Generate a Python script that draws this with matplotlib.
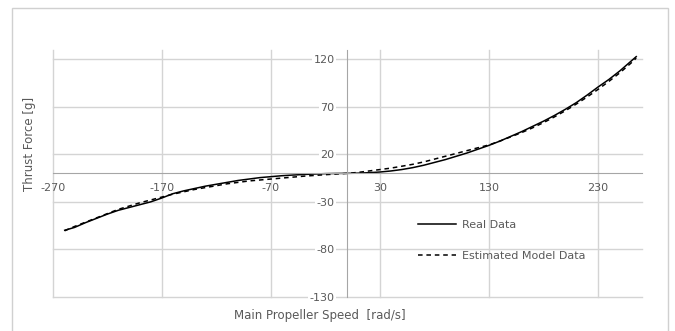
import matplotlib
matplotlib.use("Agg")
import matplotlib.pyplot as plt
from matplotlib.patches import Rectangle

plt.rcParams["axes.unicode_minus"] = False

# speed [rad/s]
speed = [-259, -250, -240, -230, -220, -210, -200, -190, -180, -170,
         -160, -150, -140, -130, -120, -110, -100, -90, -80, -70,
         -60, -50, -40, -30, -20, -10, 0, 10, 20, 30,
         40, 50, 60, 70, 80, 90, 100, 110, 120, 130,
         140, 150, 160, 170, 180, 190, 200, 210, 220, 230,
         240, 250, 260, 265]

real_thrust = [-60, -57, -52, -47.5, -43, -39, -36, -33, -30, -26,
               -21.5, -18.5, -16, -13.5, -11.5, -9.5, -7.5, -6, -4.5, -3.5,
               -2.5, -1.8, -1.2, -0.7, -0.3, -0.1, 0, 0.2, 0.7, 1.4,
               2.5, 4, 6, 8.5, 11.5, 14.5, 18, 21.5, 25.5, 29.5,
               34, 39, 44, 49.5, 55, 61, 67.5, 74.5, 82.5, 91,
               99, 108, 118, 123]

model_thrust = [-60.5, -56, -51.5, -47, -42.5, -38, -34.5, -31, -28, -25,
                -22, -19.5, -17, -15, -13, -11, -9.5, -8, -7, -6,
                -5, -4, -3, -2.2, -1.4, -0.7, 0, 1, 2.5, 4,
                5.5, 7.5, 9.5, 12, 15, 18, 21, 24, 27, 30,
                34, 38.5, 43, 48, 53.5, 59.5, 66, 73, 80.5, 88.5,
                97, 106, 116, 121.5]

xticks = [-270, -170, -70, 30, 130, 230]
yticks = [-130, -80, -30, 20, 70, 120]

grey_txt = "#595959"
grid_col = "#d4d4d4"

fig = plt.figure(figsize=(6.75, 3.31), dpi=100)
fig.patches.append(Rectangle((12 / 675, -0.05), 656 / 675, 1 - 8 / 331 + 0.05,
                             transform=fig.transFigure, fill=False,
                             edgecolor="#d0d0d0", linewidth=1))

ax = fig.add_axes([52.7 / 675, 1 - 296.7 / 331, (641.7 - 52.7) / 675, (296.7 - 50) / 331])

ax.plot(speed, real_thrust, color="black", linewidth=1.1, label="Real Data")
ax.plot(speed, model_thrust, color="black", linewidth=1.1, linestyle=(0, (3, 2.5)),
        label="Estimated Model Data")

ax.set_xlim(-270, 270)
ax.set_ylim(-130, 130)
ax.set_xticks(xticks)
ax.set_yticks(yticks)

# gridlines drawn by hand so the ones on the plot edge are not clipped
for xv in xticks:
    ax.axvline(xv, color=grid_col, linewidth=1, zorder=0, clip_on=False)
for yv in yticks:
    ax.axhline(yv, color=grid_col, linewidth=1, zorder=0, clip_on=False)

for s in ["top", "right"]:
    ax.spines[s].set_visible(False)
ax.spines["left"].set_position(("data", 0))
ax.spines["bottom"].set_position(("data", 0))
ax.spines["left"].set_color("#a6a6a6")
ax.spines["bottom"].set_color("#a6a6a6")

ax.tick_params(axis="both", length=0, labelsize=8, labelcolor=grey_txt)
ax.tick_params(axis="y", pad=9)
ax.tick_params(axis="x", pad=7)
for lab in ax.get_yticklabels():
    lab.set_bbox(dict(facecolor="white", edgecolor="none", pad=1))

fig.text(30 / 675, 1 - 144 / 331, "Thrust Force [g]", rotation=90, ha="center", va="center",
         fontsize=8.5, color=grey_txt)
fig.text(320 / 675, 1 - 316 / 331, "Main Propeller Speed  [rad/s]", ha="center", va="center",
         fontsize=8.5, color=grey_txt)

ax.legend(loc="upper left", bbox_to_anchor=(418 / 675, 1 - 220 / 331),
          bbox_transform=fig.transFigure, frameon=False, fontsize=8,
          handlelength=3.4, handletextpad=0.6, labelspacing=1.9,
          borderpad=0, borderaxespad=0, labelcolor=grey_txt)

fig.savefig("out.png", dpi=100)
